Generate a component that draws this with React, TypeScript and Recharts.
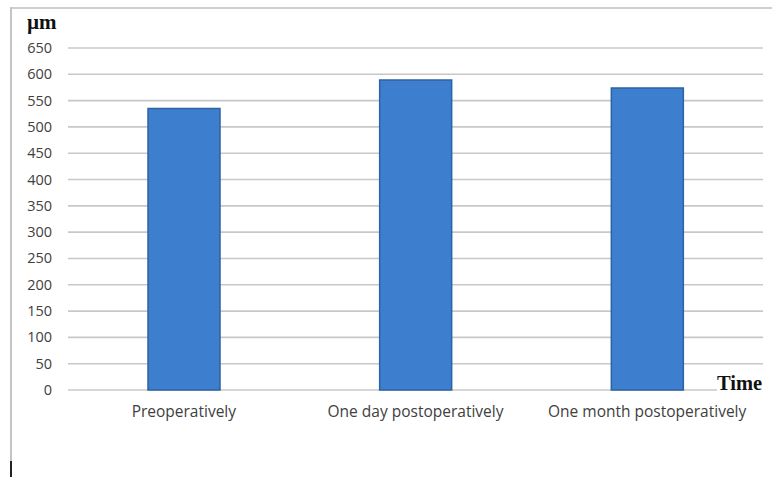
import { Bar, BarChart, CartesianGrid, XAxis, YAxis } from "recharts";

const categories = [
  "Preoperatively",
  "One day postoperatively",
  "One month postoperatively",
];
const thickness = [535, 589, 574];
const yTicks = [0, 50, 100, 150, 200, 250, 300, 350, 400, 450, 500, 550, 600, 650];

const data = categories.map((name, i) => ({ name, value: thickness[i] }));

const tickFont = "'Open Sans', 'Noto Sans', sans-serif";

function YTick(props: any) {
  const { y, payload } = props;
  return (
    <text
      x={52}
      y={y}
      dy={5}
      textAnchor="end"
      fontFamily={tickFont}
      fontSize={14.5}
      fill="#404040"
    >
      {payload.value}
    </text>
  );
}

function XTick(props: any) {
  const { x, payload } = props;
  return (
    <text
      x={x}
      y={417}
      textAnchor="middle"
      fontFamily={tickFont}
      fontSize={15.5}
      fill="#404040"
    >
      {payload.value}
    </text>
  );
}

export default function App() {
  return (
    <div
      style={{
        position: "absolute",
        left: 0,
        top: 0,
        width: 772,
        height: 477,
        background: "#fff",
        overflow: "hidden",
      }}
    >
      <style>{"body{margin:0}"}</style>
      {/* frame */}
      <div
        style={{
          position: "absolute",
          left: 10,
          top: 7,
          width: 762,
          height: 2,
          background: "#cfcfcf",
        }}
      />
      <div
        style={{
          position: "absolute",
          left: 10,
          top: 7,
          width: 2,
          height: 470,
          background: "#c4c4c4",
        }}
      />
      <div
        style={{
          position: "absolute",
          left: 10,
          top: 461,
          width: 2,
          height: 16,
          background: "#222",
        }}
      />
      <BarChart
        width={772}
        height={477}
        data={data}
        margin={{ top: 48, right: 9, left: 0, bottom: 57 }}
        barSize={72}
        style={{ position: "absolute", left: 0, top: 0 }}
      >
        <CartesianGrid
          vertical={false}
          stroke="#c8c8c8"
          strokeWidth={1.6}
        />
        <XAxis
          dataKey="name"
          height={30}
          tickLine={false}
          axisLine={false}
          tick={<XTick />}
          interval={0}
        />
        <YAxis
          width={68}
          domain={[0, 650]}
          ticks={yTicks}
          interval={0}
          tickLine={false}
          axisLine={false}
          tick={<YTick />}
        />
        <Bar
          dataKey="value"
          fill="#3E7ECF"
          stroke="#2C63A4"
          strokeWidth={1.5}
          isAnimationActive={false}
        />
      </BarChart>
      <div
        style={{
          position: "absolute",
          left: 27,
          top: 11,
          fontFamily: "'Liberation Serif', serif",
          fontWeight: "bold",
          fontSize: 21,
          color: "#111",
          lineHeight: "22px",
        }}
      >
        µm
      </div>
      <div
        style={{
          position: "absolute",
          left: 717,
          top: 372,
          fontFamily: "'Liberation Serif', serif",
          fontWeight: "bold",
          fontSize: 20.5,
          color: "#111",
          lineHeight: "22px",
          background: "#fff",
          paddingRight: 2,
        }}
      >
        Time
      </div>
    </div>
  );
}
